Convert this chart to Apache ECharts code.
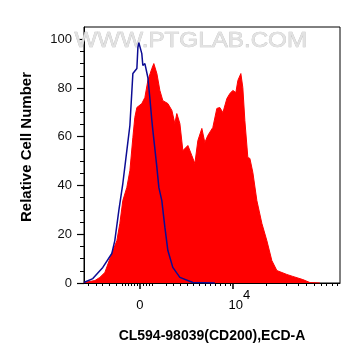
<!DOCTYPE html>
<html>
<head>
<meta charset="utf-8">
<script src="https://cdn.jsdelivr.net/npm/echarts@6/dist/echarts.min.js"></script>
<style>html,body{margin:0;padding:0;background:#fff;}#c{width:361px;height:363px;}</style>
</head>
<body>
<div id="c"></div>
<script>
// x in display units: 0 -> "0", 100 -> "10^4"
const redX = [-60.2,-48.3,-43.0,-37.6,-32.2,-24.7,-21.5,-18.3,-14.0,-10.7,-7.5,-5.4,-3.2,-2.1,2.1,5.4,8.6,12.9,15.0,18.3,21.5,24.7,30.1,34.4,37.6,39.7,43.0,46.2,51.6,55.8,59.1,62.3,66.6,69.8,73.0,78.4,82.7,85.9,89.2,93.5,96.7,99.9,103.1,105.3,108.5,110.6,112.8,116.0,118.2,121.4,125.7,131.1,136.4,141.8,147.2,157.9,164.3,175.1,182.6,193.4];
const redY = [0.2,1.0,2.3,4.3,10.0,17.4,24.4,33.8,39.2,46.1,59.7,67.9,72.0,72.4,73.6,76.1,83.1,88.0,90.0,85.9,79.0,74.8,73.6,70.8,65.4,69.5,65.4,54.3,56.4,52.3,49.0,58.4,63.4,57.6,60.5,63.8,71.6,72.0,69.9,75.7,77.7,79.0,78.1,83.1,85.9,80.2,66.6,51.5,51.1,45.3,33.8,24.4,17.4,9.2,5.1,3.5,2.7,1.4,0.2,0];
const blueX = [-60.2,-50.5,-39.8,-30.1,-26.9,-22.6,-18.3,-14.0,-10.7,-7.5,-5.4,-3.2,-2.1,-1.1,2.1,3.2,5.4,7.5,8.6,10.7,12.9,14.0,18.3,20.4,23.6,26.9,30.1,35.4,43.0,56.9,80.6];
const blueY = [0.2,1.8,6.4,12.1,17.4,29.7,40.8,54.3,64.6,85.9,86.3,88.0,96.6,98.6,94.1,89.2,90.0,89.2,84.3,76.1,66.6,62.5,47.4,39.2,33.8,22.8,13.3,6.4,2.3,0.2,0];
const xMajorTicks = [0, 100];
const xMinorTicks = [-55.9,-47.3,-40.8,-33.3,-25.8,-19.3,-16.1,-12.9,-9.7,-6.4,-3.2,3.2,6.4,9.7,12.9,27.9,35.4,43.0,50.5,56.9,63.4,69.8,75.2,80.6,85.9,91.3,96.7,135.3,156.8,169.7,178.3,186.9,194.4,199.8,206.2,211.6];
const yMajorTicks = [0,20,40,60,80,100];
const yMinorTicks = [5,10,15,25,30,35,45,50,55,65,70,75,85,90,95];
const xTitle = 'CL594-98039(CD200),ECD-A';
const yTitle = 'Relative Cell Number';
const watermark = 'WWW.PTGLAB.COM';

const chart = echarts.init(document.getElementById('c'), null, {renderer:'canvas'});
const font = 'Liberation Sans, Arial, sans-serif';
const zip = (a,b)=>a.map((v,i)=>[v,b[i]]);
chart.setOption({
  animation:false,
  grid:{left:84, top:27, width:256, height:256, show:true, borderColor:'#000', borderWidth:1, backgroundColor:'transparent'},
  xAxis:[{
    type:'value', min:-60, max:215, position:'bottom',
    axisLine:{show:true, onZero:false, lineStyle:{color:'#000', width:1}},
    splitLine:{show:false},
    axisTick:{show:true, length:6, customValues:xMajorTicks, lineStyle:{color:'#000', width:1.5}},
    axisLabel:{show:true, customValues:xMajorTicks, margin:6, color:'#000', fontFamily:font, fontSize:13,
      formatter:function(v){ return v===0 ? '{z|0}' : '{a|10}{b|4}'; },
      rich:{
        z:{fontSize:13, fontFamily:font, color:'#000', padding:[10,0,0,0]},
        a:{fontSize:13, fontFamily:font, color:'#000', padding:[10,0,0,13], verticalAlign:'bottom'},
        b:{fontSize:13, fontFamily:font, color:'#000', padding:[0,0,10,0], verticalAlign:'top'}
      }}
  },{
    type:'value', min:-60, max:215, position:'bottom',
    axisLine:{show:false, onZero:false}, splitLine:{show:false}, axisLabel:{show:false},
    axisTick:{show:true, length:3, customValues:xMinorTicks, lineStyle:{color:'#000', width:1}}
  }],
  yAxis:[{
    type:'value', min:0, max:105, position:'left',
    axisLine:{show:true, onZero:false, lineStyle:{color:'#000', width:1}},
    splitLine:{show:false},
    axisTick:{show:true, length:7, customValues:yMajorTicks, lineStyle:{color:'#000', width:1.2}},
    axisLabel:{show:true, customValues:yMajorTicks, margin:12, color:'#111', fontFamily:font, fontSize:13}
  },{
    type:'value', min:0, max:105, position:'left',
    axisLine:{show:false, onZero:false}, splitLine:{show:false}, axisLabel:{show:false},
    axisTick:{show:true, length:4, customValues:yMinorTicks, lineStyle:{color:'#000', width:1}}
  }],
  series:[{
    type:'line', xAxisIndex:0, yAxisIndex:0, data:zip(redX, redY), showSymbol:false, symbol:'none',
    lineStyle:{color:'#ff0000', width:1}, areaStyle:{color:'#ff0000', opacity:1}, z:2
  },{
    type:'line', xAxisIndex:0, yAxisIndex:0, data:zip(blueX, blueY), showSymbol:false, symbol:'none',
    lineStyle:{color:'#0c0c94', width:1.5}, z:3
  }],
  graphic:[
    {type:'text', x:212, y:41, scaleX:1.1, originX:212, originY:41, z:1, silent:true,
      style:{text:watermark, font:'22px '+font, fill:'#e2e2e2', stroke:'#bdbdbd', lineWidth:0.6, align:'center', verticalAlign:'middle'}},
    {type:'text', x:212, y:336, silent:true,
      style:{text:xTitle, font:'bold 14px '+font, fill:'#000', align:'center', verticalAlign:'middle'}},
    {type:'text', x:27, y:147, rotation:Math.PI/2, silent:true,
      style:{text:yTitle, font:'bold 15px '+font, fill:'#000', align:'center', verticalAlign:'middle'}}
  ]
});
</script>
</body>
</html>
